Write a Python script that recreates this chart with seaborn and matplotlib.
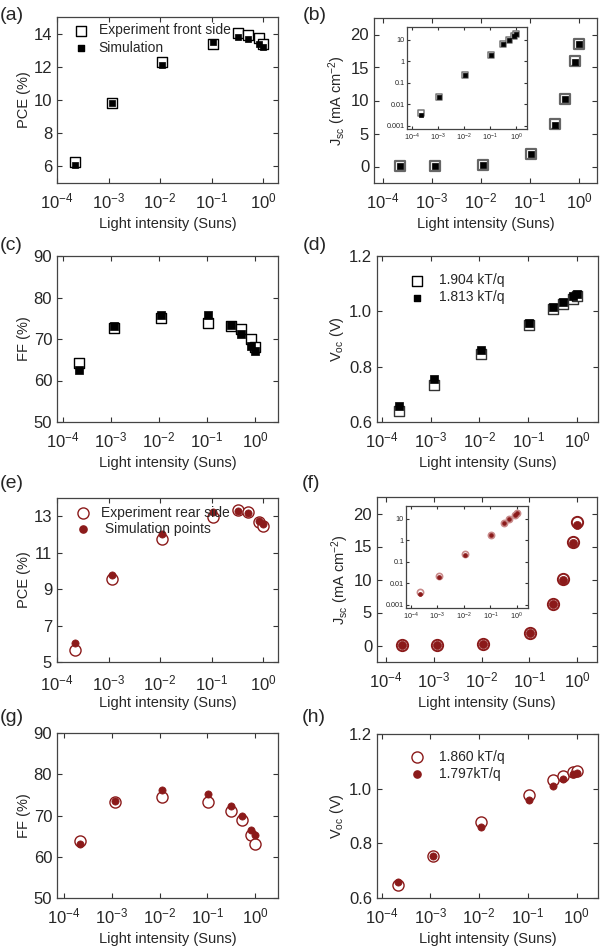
import numpy as np
import pandas as pd
import matplotlib
matplotlib.use("Agg")
import matplotlib.pyplot as plt
import seaborn as sns
from matplotlib.ticker import LogLocator, NullLocator, FormatStrFormatter, MultipleLocator

# ---------------- DATA ----------------
intensity = [2.2e-4, 1.15e-3, 1.1e-2, 0.105, 0.32, 0.52, 0.84, 1.0]

# front side (black squares)
pce_front_exp = [6.25, 9.8, 12.27, 13.38, 14.03, 13.93, 13.73, 13.38]
pce_front_sim = [6.1, 9.8, 12.13, 13.48, 13.79, 13.69, 13.38, 13.22]
jsc_front_exp = [0.004, 0.021, 0.23, 1.95, 6.4, 10.3, 15.95, 18.6]
jsc_front_sim = [0.0033, 0.021, 0.22, 1.95, 6.35, 10.25, 15.9, 18.55]
ff_front_exp = [64.3, 72.7, 75.0, 73.9, 73.1, 72.3, 70.0, 68.0]
ff_front_sim = [62.6, 73.1, 75.9, 75.7, 73.3, 71.3, 68.4, 67.1]
voc_front_exp = [0.638, 0.735, 0.847, 0.952, 1.010, 1.025, 1.045, 1.055]
voc_front_sim = [0.659, 0.756, 0.859, 0.958, 1.016, 1.033, 1.055, 1.061]

# rear side (dark red circles)
pce_rear_exp = [5.67, 9.53, 11.76, 12.95, 13.36, 13.22, 12.67, 12.49]
pce_rear_sim = [6.07, 9.76, 12.0, 13.22, 13.31, 13.16, 12.76, 12.58]
jsc_rear_exp = [0.004, 0.021, 0.23, 1.86, 6.3, 10.08, 15.7, 18.64]
jsc_rear_sim = [0.0033, 0.02, 0.21, 1.86, 6.25, 10.0, 15.55, 18.2]
ff_rear_exp = [63.7, 73.2, 74.5, 73.2, 71.0, 68.8, 65.2, 63.2]
ff_rear_sim = [63.1, 73.6, 76.3, 75.3, 72.2, 70.0, 66.6, 65.2]
voc_rear_exp = [0.646, 0.752, 0.877, 0.977, 1.032, 1.048, 1.061, 1.066]
voc_rear_sim = [0.658, 0.755, 0.858, 0.959, 1.011, 1.034, 1.054, 1.059]

DARKRED = "#8b1a1a"

# ---------------- STYLE ----------------
sns.set_style("ticks")
plt.rcParams['font.family'] = ['Liberation Sans', 'DejaVu Sans']
plt.rcParams['mathtext.fontset'] = 'custom'
plt.rcParams['mathtext.rm'] = 'Liberation Sans'
plt.rcParams['mathtext.it'] = 'Liberation Sans:italic'
plt.rcParams['mathtext.default'] = 'regular'
plt.rcParams['xtick.direction'] = 'in'
plt.rcParams['ytick.direction'] = 'in'
plt.rcParams['xtick.top'] = True
plt.rcParams['ytick.right'] = True

TICK_FS = 12
LAB_FS = 10.5
LEG_FS = 10

fig = plt.figure(figsize=(6, 9.48), dpi=100)

def px_axes(x0, x1, y0, y1):
    return fig.add_axes([x0 / 600, 1 - y1 / 948, (x1 - x0) / 600, (y1 - y0) / 948])

def style_ax(ax, xlim, fs=TICK_FS, ticklen=3.5, xpad=6):
    ax.set_xscale("log")
    ax.set_xlim(10 ** xlim[0], 10 ** xlim[1])
    ax.xaxis.set_major_locator(LogLocator(base=10, numticks=10))
    ax.xaxis.set_minor_locator(NullLocator())
    ax.tick_params(labelsize=fs, length=ticklen, width=0.8, color="#333333")
    ax.tick_params(axis="x", pad=xpad)
    for s in ax.spines.values():
        s.set_linewidth(0.9)
        s.set_color("#444444")

def labels(ax, ylab):
    ax.set_ylabel(ylab, fontsize=LAB_FS, labelpad=2)
    ax.set_xlabel("Light intensity (Suns)", fontsize=LAB_FS, labelpad=4)

def front_panel(ax, exp, sim, edge="black", ms_open=52, ms_fill=22, lw=1.0):
    sns.scatterplot(x=intensity, y=exp, ax=ax, marker="s", s=ms_open,
                    facecolor="white", edgecolor=edge, linewidth=lw, zorder=3)
    sns.scatterplot(x=intensity, y=sim, ax=ax, marker="s", s=ms_fill,
                    color="black", edgecolor="black", linewidth=0.5, zorder=4)

def rear_panel(ax, exp, sim, ms_open=64, ms_fill=27, lw=1.0):
    sns.scatterplot(x=intensity, y=exp, ax=ax, marker="o", s=ms_open,
                    facecolor="white", edgecolor=DARKRED, linewidth=lw, zorder=3)
    sns.scatterplot(x=intensity, y=sim, ax=ax, marker="o", s=ms_fill,
                    color=DARKRED, edgecolor=DARKRED, linewidth=0.5, zorder=4)

def inset(x0, x1, y0, y1, exp, sim, kind):
    ins = px_axes(x0, x1, y0, y1)
    if kind == "front":
        front_panel(ins, exp, sim, edge="#777777", ms_open=20, ms_fill=8, lw=1.1)
    else:
        rear_panel(ins, exp, sim, ms_open=20, ms_fill=8, lw=1.2)
        ins.collections[0].set_edgecolor("#c98a8a")
    style_ax(ins, (-4.18, 0.42), fs=5.2, ticklen=2, xpad=2)
    ins.set_yscale("log")
    ins.set_ylim(7e-4, 40)
    ins.yaxis.set_minor_locator(NullLocator())
    ins.set_yticks([0.001, 0.01, 0.1, 1, 10])
    ins.set_yticklabels(["0.001", "0.01", "0.1", "1", "10"])
    ins.tick_params(axis="y", pad=1.5)
    return ins

JLAB = r"J$_{sc}$ (mA cm$^{-2}$)"
VLAB = r"V$_{oc}$ (V)"

# (a)
ax = px_axes(57, 278, 17, 183)
front_panel(ax, pce_front_exp, pce_front_sim)
style_ax(ax, (-4, 0.29))
ax.set_ylim(5, 15)
ax.yaxis.set_major_locator(MultipleLocator(2))
labels(ax, "PCE (%)")
h1 = ax.scatter([], [], marker="s", s=52, facecolor="white", edgecolor="black", linewidth=1.0)
h2 = ax.scatter([], [], marker="s", s=22, color="black")
ax.legend([h1, h2], ["Experiment front side", "Simulation"], loc="upper left",
          bbox_to_anchor=(0.0, 1.02), frameon=False, fontsize=LEG_FS, handletextpad=0.3,
          borderaxespad=0.3, labelspacing=0.25)

# (b)
ax = px_axes(374, 597, 18, 183)
front_panel(ax, jsc_front_exp, jsc_front_sim, edge="#666666", ms_open=54, ms_fill=24, lw=1.6)
style_ax(ax, (-4.18, 0.37))
ax.set_ylim(-2.5, 22.5)
ax.yaxis.set_major_locator(MultipleLocator(5))
labels(ax, JLAB)
inset(407, 527, 27, 129, jsc_front_exp, jsc_front_sim, "front")

# (c)
ax = px_axes(57, 278, 256, 422)
front_panel(ax, ff_front_exp, ff_front_sim, ms_open=58, ms_fill=26)
style_ax(ax, (-4.125, 0.48))
ax.set_ylim(50, 90)
ax.yaxis.set_major_locator(MultipleLocator(10))
labels(ax, "FF (%)")

# (d)
ax = px_axes(377, 598, 256, 422)
front_panel(ax, voc_front_exp, voc_front_sim, edge="#333333", ms_open=58, ms_fill=26)
style_ax(ax, (-4.1, 0.43))
ax.set_ylim(0.6, 1.2)
ax.yaxis.set_major_locator(MultipleLocator(0.2))
ax.yaxis.set_major_formatter(FormatStrFormatter("%.1f"))
labels(ax, VLAB)
h1 = ax.scatter([], [], marker="s", s=52, facecolor="white", edgecolor="black", linewidth=1.0)
h2 = ax.scatter([], [], marker="s", s=22, color="black")
ax.legend([h1, h2], ["1.904 kT/q", "1.813 kT/q"], loc="upper left",
          bbox_to_anchor=(0.06, 0.97), frameon=False, fontsize=LEG_FS, handletextpad=0.6,
          labelspacing=0.2)

# (e)
ax = px_axes(57, 278, 498, 662)
rear_panel(ax, pce_rear_exp, pce_rear_sim)
style_ax(ax, (-4, 0.29), xpad=8)
ax.set_ylim(5, 14)
ax.set_yticks([5, 7, 9, 11, 13])
labels(ax, "PCE (%)")
ax.xaxis.labelpad = 2
h1 = ax.scatter([], [], marker="o", s=64, facecolor="white", edgecolor=DARKRED, linewidth=1.0)
h2 = ax.scatter([], [], marker="o", s=27, color=DARKRED)
ax.legend([h1, h2], ["Experiment rear side", " Simulation points"], loc="upper left",
          bbox_to_anchor=(0.0, 1.03), frameon=False, fontsize=LEG_FS, handletextpad=0.3,
          labelspacing=0.15)

# (f)
ax = px_axes(377, 597, 497, 662)
rear_panel(ax, jsc_rear_exp, jsc_rear_sim, ms_open=66, ms_fill=34, lw=1.4)
style_ax(ax, (-4.19, 0.42))
ax.set_ylim(-2.5, 22.5)
ax.yaxis.set_major_locator(MultipleLocator(5))
labels(ax, JLAB)
inset(406, 528, 506, 608, jsc_rear_exp, jsc_rear_sim, "rear")

# (g)
ax = px_axes(57, 278, 733, 898)
rear_panel(ax, ff_rear_exp, ff_rear_sim)
style_ax(ax, (-4.147, 0.48))
ax.set_ylim(50, 90)
ax.yaxis.set_major_locator(MultipleLocator(10))
labels(ax, "FF (%)")

# (h)
ax = px_axes(377, 598, 734, 898)
rear_panel(ax, voc_rear_exp, voc_rear_sim)
style_ax(ax, (-4.096, 0.437))
ax.set_ylim(0.6, 1.2)
ax.yaxis.set_major_locator(MultipleLocator(0.2))
ax.yaxis.set_major_formatter(FormatStrFormatter("%.1f"))
labels(ax, VLAB)
h1 = ax.scatter([], [], marker="o", s=64, facecolor="white", edgecolor=DARKRED, linewidth=1.0)
h2 = ax.scatter([], [], marker="o", s=27, color=DARKRED)
ax.legend([h1, h2], ["1.860 kT/q", "1.797kT/q"], loc="upper left",
          bbox_to_anchor=(0.06, 0.98), frameon=False, fontsize=LEG_FS, handletextpad=0.6,
          labelspacing=0.2)

# panel letters
for lab, x, y in [("(a)", 0, 15), ("(b)", 303, 15), ("(c)", 0, 245), ("(d)", 303, 245),
                  ("(e)", 0, 484), ("(f)", 302, 484), ("(g)", 0, 718), ("(h)", 302, 718)]:
    fig.text(x / 600, 1 - y / 948, lab, fontsize=14, ha="left", va="center")

fig.savefig("out.png", dpi=100)
